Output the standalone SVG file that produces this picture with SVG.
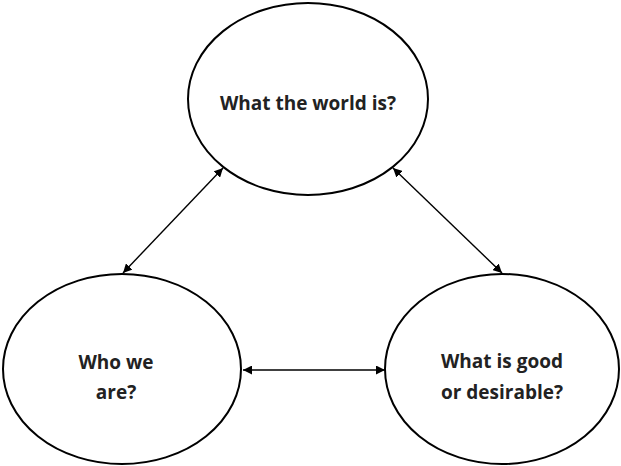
<svg xmlns="http://www.w3.org/2000/svg" width="621" height="466" viewBox="0 0 621 466">
<style>
.node ellipse{fill:#fff;stroke:#000;stroke-width:2}
.lbl{font-family:"Open Sans","Liberation Sans",sans-serif;font-weight:700;font-size:19px;fill:#222;text-anchor:middle}
.conn line{stroke:#000;stroke-width:1.4;marker-start:url(#ah);marker-end:url(#ah)}
</style>
<defs>
<marker id="ah" viewBox="0 0 10 10" refX="10" refY="5" markerWidth="9" markerHeight="9" markerUnits="userSpaceOnUse" orient="auto-start-reverse">
<path d="M0,0 L10,5 L0,10 z" fill="#000"/>
</marker>
</defs>
<rect width="621" height="466" fill="#fff"/>
<g id="world" class="node">
<ellipse cx="308" cy="99" rx="120" ry="96"/>
<text class="lbl" x="308" y="110">What the world is?</text>
</g>
<g id="who" class="node">
<ellipse cx="122" cy="369" rx="119" ry="95"/>
<text class="lbl" x="116" y="369">Who we</text>
<text class="lbl" x="116" y="399">are?</text>
</g>
<g id="good" class="node">
<ellipse cx="502" cy="369" rx="117" ry="95"/>
<text class="lbl" x="502" y="368">What is good</text>
<text class="lbl" x="502" y="399">or desirable?</text>
</g>
<g id="connectors" class="conn">
<line x1="123" y1="273" x2="223" y2="168"/>
<line x1="393" y1="168" x2="502" y2="273"/>
<line x1="243" y1="370" x2="385" y2="370"/>
</g>
</svg>
